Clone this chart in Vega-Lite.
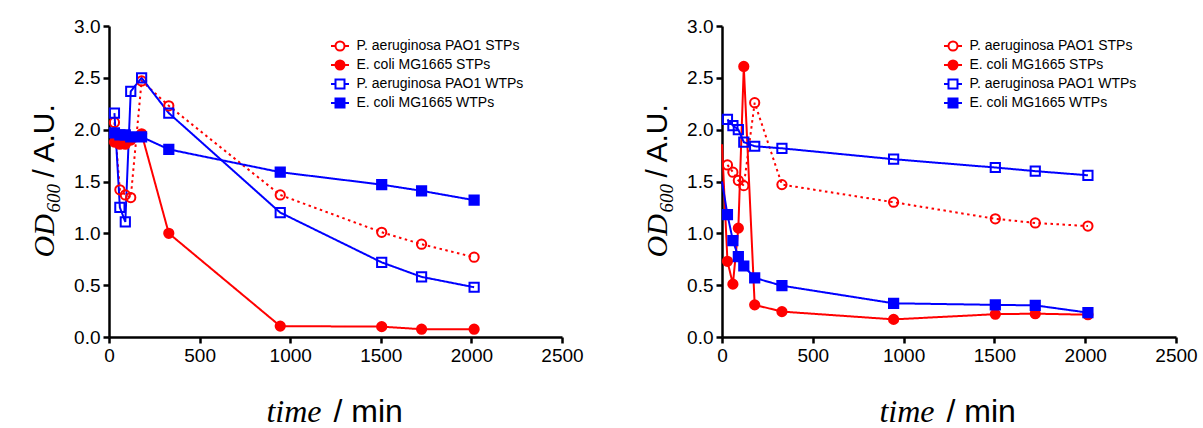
{
  "$schema": "https://vega.github.io/schema/vega-lite/v6.json",
  "padding": {"left": 29, "top": 17, "right": 5, "bottom": 6},
  "background": "white",
  "config": {
    "view": {"stroke": null},
    "axis": {
      "domainColor": "black", "domainWidth": 2.5, "tickColor": "black", "tickWidth": 2.5, "tickSize": 6,
      "labelFont": "Liberation Sans", "labelFontSize": 19, "labelColor": "black", "labelPadding": 3,
      "titleColor": "black", "titleFontWeight": "normal", "grid": false, "labelFlush": false, "labelOverlap": false
    },
    "legend": {"labelLimit": 400}
  },
  "data": {"values": [
    {"p": "L", "s": "P. aeruginosa PAO1 STPs", "t": 30, "y": 2.07},
    {"p": "L", "s": "P. aeruginosa PAO1 STPs", "t": 60, "y": 1.42},
    {"p": "L", "s": "P. aeruginosa PAO1 STPs", "t": 90, "y": 1.37},
    {"p": "L", "s": "P. aeruginosa PAO1 STPs", "t": 120, "y": 1.345},
    {"p": "L", "s": "P. aeruginosa PAO1 STPs", "t": 180, "y": 2.47},
    {"p": "L", "s": "P. aeruginosa PAO1 STPs", "t": 330, "y": 2.23},
    {"p": "L", "s": "P. aeruginosa PAO1 STPs", "t": 945, "y": 1.37},
    {"p": "L", "s": "P. aeruginosa PAO1 STPs", "t": 1505, "y": 1.01},
    {"p": "L", "s": "P. aeruginosa PAO1 STPs", "t": 1725, "y": 0.895},
    {"p": "L", "s": "P. aeruginosa PAO1 STPs", "t": 2015, "y": 0.77},
    {"p": "L", "s": "E. coli MG1665 STPs", "t": 30, "y": 1.88},
    {"p": "L", "s": "E. coli MG1665 STPs", "t": 60, "y": 1.86},
    {"p": "L", "s": "E. coli MG1665 STPs", "t": 90, "y": 1.86},
    {"p": "L", "s": "E. coli MG1665 STPs", "t": 120, "y": 1.9},
    {"p": "L", "s": "E. coli MG1665 STPs", "t": 180, "y": 1.96},
    {"p": "L", "s": "E. coli MG1665 STPs", "t": 330, "y": 1.0},
    {"p": "L", "s": "E. coli MG1665 STPs", "t": 945, "y": 0.105},
    {"p": "L", "s": "E. coli MG1665 STPs", "t": 1505, "y": 0.1},
    {"p": "L", "s": "E. coli MG1665 STPs", "t": 1725, "y": 0.075},
    {"p": "L", "s": "E. coli MG1665 STPs", "t": 2015, "y": 0.075},
    {"p": "L", "s": "P. aeruginosa PAO1 WTPs", "t": 30, "y": 2.16},
    {"p": "L", "s": "P. aeruginosa PAO1 WTPs", "t": 60, "y": 1.25},
    {"p": "L", "s": "P. aeruginosa PAO1 WTPs", "t": 90, "y": 1.11},
    {"p": "L", "s": "P. aeruginosa PAO1 WTPs", "t": 120, "y": 2.37},
    {"p": "L", "s": "P. aeruginosa PAO1 WTPs", "t": 180, "y": 2.5},
    {"p": "L", "s": "P. aeruginosa PAO1 WTPs", "t": 330, "y": 2.16},
    {"p": "L", "s": "P. aeruginosa PAO1 WTPs", "t": 945, "y": 1.2},
    {"p": "L", "s": "P. aeruginosa PAO1 WTPs", "t": 1505, "y": 0.72},
    {"p": "L", "s": "P. aeruginosa PAO1 WTPs", "t": 1725, "y": 0.58},
    {"p": "L", "s": "P. aeruginosa PAO1 WTPs", "t": 2015, "y": 0.48},
    {"p": "L", "s": "E. coli MG1665 WTPs", "t": 30, "y": 1.97},
    {"p": "L", "s": "E. coli MG1665 WTPs", "t": 60, "y": 1.95},
    {"p": "L", "s": "E. coli MG1665 WTPs", "t": 90, "y": 1.95},
    {"p": "L", "s": "E. coli MG1665 WTPs", "t": 120, "y": 1.93},
    {"p": "L", "s": "E. coli MG1665 WTPs", "t": 180, "y": 1.93},
    {"p": "L", "s": "E. coli MG1665 WTPs", "t": 330, "y": 1.81},
    {"p": "L", "s": "E. coli MG1665 WTPs", "t": 945, "y": 1.59},
    {"p": "L", "s": "E. coli MG1665 WTPs", "t": 1505, "y": 1.47},
    {"p": "L", "s": "E. coli MG1665 WTPs", "t": 1725, "y": 1.41},
    {"p": "L", "s": "E. coli MG1665 WTPs", "t": 2015, "y": 1.32},
    {"p": "R", "s": "P. aeruginosa PAO1 STPs", "t": 30, "y": 1.66},
    {"p": "R", "s": "P. aeruginosa PAO1 STPs", "t": 60, "y": 1.59},
    {"p": "R", "s": "P. aeruginosa PAO1 STPs", "t": 90, "y": 1.51},
    {"p": "R", "s": "P. aeruginosa PAO1 STPs", "t": 120, "y": 1.46},
    {"p": "R", "s": "P. aeruginosa PAO1 STPs", "t": 180, "y": 2.26},
    {"p": "R", "s": "P. aeruginosa PAO1 STPs", "t": 330, "y": 1.47},
    {"p": "R", "s": "P. aeruginosa PAO1 STPs", "t": 945, "y": 1.3},
    {"p": "R", "s": "P. aeruginosa PAO1 STPs", "t": 1505, "y": 1.14},
    {"p": "R", "s": "P. aeruginosa PAO1 STPs", "t": 1725, "y": 1.1},
    {"p": "R", "s": "P. aeruginosa PAO1 STPs", "t": 2015, "y": 1.07},
    {"p": "R", "s": "E. coli MG1665 STPs", "t": 0, "y": 1.86},
    {"p": "R", "s": "E. coli MG1665 STPs", "t": 30, "y": 0.73},
    {"p": "R", "s": "E. coli MG1665 STPs", "t": 60, "y": 0.51},
    {"p": "R", "s": "E. coli MG1665 STPs", "t": 90, "y": 1.05},
    {"p": "R", "s": "E. coli MG1665 STPs", "t": 120, "y": 2.61},
    {"p": "R", "s": "E. coli MG1665 STPs", "t": 180, "y": 0.31},
    {"p": "R", "s": "E. coli MG1665 STPs", "t": 330, "y": 0.245},
    {"p": "R", "s": "E. coli MG1665 STPs", "t": 945, "y": 0.17},
    {"p": "R", "s": "E. coli MG1665 STPs", "t": 1505, "y": 0.22},
    {"p": "R", "s": "E. coli MG1665 STPs", "t": 1725, "y": 0.225},
    {"p": "R", "s": "E. coli MG1665 STPs", "t": 2015, "y": 0.215},
    {"p": "R", "s": "P. aeruginosa PAO1 WTPs", "t": 30, "y": 2.1},
    {"p": "R", "s": "P. aeruginosa PAO1 WTPs", "t": 60, "y": 2.04},
    {"p": "R", "s": "P. aeruginosa PAO1 WTPs", "t": 90, "y": 2.0},
    {"p": "R", "s": "P. aeruginosa PAO1 WTPs", "t": 120, "y": 1.88},
    {"p": "R", "s": "P. aeruginosa PAO1 WTPs", "t": 180, "y": 1.84},
    {"p": "R", "s": "P. aeruginosa PAO1 WTPs", "t": 330, "y": 1.82},
    {"p": "R", "s": "P. aeruginosa PAO1 WTPs", "t": 945, "y": 1.715},
    {"p": "R", "s": "P. aeruginosa PAO1 WTPs", "t": 1505, "y": 1.635},
    {"p": "R", "s": "P. aeruginosa PAO1 WTPs", "t": 1725, "y": 1.6},
    {"p": "R", "s": "P. aeruginosa PAO1 WTPs", "t": 2015, "y": 1.56},
    {"p": "R", "s": "E. coli MG1665 WTPs", "t": 0, "y": 1.5},
    {"p": "R", "s": "E. coli MG1665 WTPs", "t": 30, "y": 1.18},
    {"p": "R", "s": "E. coli MG1665 WTPs", "t": 60, "y": 0.93},
    {"p": "R", "s": "E. coli MG1665 WTPs", "t": 90, "y": 0.775},
    {"p": "R", "s": "E. coli MG1665 WTPs", "t": 120, "y": 0.685},
    {"p": "R", "s": "E. coli MG1665 WTPs", "t": 180, "y": 0.57},
    {"p": "R", "s": "E. coli MG1665 WTPs", "t": 330, "y": 0.495},
    {"p": "R", "s": "E. coli MG1665 WTPs", "t": 945, "y": 0.325},
    {"p": "R", "s": "E. coli MG1665 WTPs", "t": 1505, "y": 0.31},
    {"p": "R", "s": "E. coli MG1665 WTPs", "t": 1725, "y": 0.305},
    {"p": "R", "s": "E. coli MG1665 WTPs", "t": 2015, "y": 0.235}
  ]},
  "hconcat": [
    {
      "width": 453, "height": 311,
      "transform": [{"filter": "datum.p == 'L'"}],
      "resolve": {"scale": {"stroke": "independent", "fill": "independent", "shape": "independent", "strokeDash": "independent"}, "axis": {"x": "independent", "y": "independent"}},
      "layer": [
        {
          "mark": {"type": "line", "strokeWidth": 2, "strokeCap": "butt"},
          "encoding": {
            "x": {"field": "t", "type": "quantitative", "scale": {"domain": [0, 2500], "nice": false}, "axis": {"orient": "bottom", "values": [0, 500, 1000, 1500, 2000, 2500], "format": "d", "title": "time", "titleFont": "Liberation Serif", "titleFontStyle": "italic", "titleFontSize": 32, "titleAlign": "right", "titleBaseline": "alphabetic", "titleX": 212, "titleY": 84}},
            "y": {"field": "y", "type": "quantitative", "scale": {"domain": [0, 3], "nice": false}, "axis": {"orient": "left", "values": [0, 0.5, 1, 1.5, 2, 2.5, 3], "format": ".1f", "title": "OD", "titleFont": "Liberation Serif", "titleFontStyle": "italic", "titleFontSize": 30, "titleAngle": 270, "titleAlign": "left", "titleBaseline": "alphabetic", "titleX": -56, "titleY": 231}},
            "stroke": {"field": "s", "type": "nominal", "scale": {"domain": ["P. aeruginosa PAO1 STPs", "E. coli MG1665 STPs", "P. aeruginosa PAO1 WTPs", "E. coli MG1665 WTPs"], "range": ["#ff0000", "#ff0000", "#0000ff", "#0000ff"]}, "legend": null},
            "strokeDash": {"field": "s", "type": "nominal", "scale": {"domain": ["P. aeruginosa PAO1 STPs", "E. coli MG1665 STPs", "P. aeruginosa PAO1 WTPs", "E. coli MG1665 WTPs"], "range": [[2.5, 3.5], [1, 0], [1, 0], [1, 0]]}, "legend": null}
          }
        },
        {
          "mark": {"type": "point", "size": 85, "strokeWidth": 2, "opacity": 1},
          "transform": [{"filter": "datum.t > 0"}],
          "encoding": {
            "x": {"field": "t", "type": "quantitative", "scale": {"domain": [0, 2500], "nice": false}, "axis": {"orient": "bottom", "title": "/ min", "domain": false, "ticks": false, "labels": false, "titleFont": "Liberation Sans", "titleFontSize": 32, "titleAlign": "left", "titleBaseline": "alphabetic", "titleX": 224, "titleY": 84}},
            "y": {"field": "y", "type": "quantitative", "scale": {"domain": [0, 3], "nice": false}, "axis": {"orient": "left", "title": "600", "domain": false, "ticks": false, "labels": false, "titleFont": "Liberation Serif", "titleFontStyle": "italic", "titleFontSize": 19, "titleAngle": 270, "titleAlign": "left", "titleBaseline": "alphabetic", "titleX": -50, "titleY": 186}},
            "stroke": {"field": "s", "type": "nominal", "scale": {"domain": ["P. aeruginosa PAO1 STPs", "E. coli MG1665 STPs", "P. aeruginosa PAO1 WTPs", "E. coli MG1665 WTPs"], "range": ["#ff0000", "#ff0000", "#0000ff", "#0000ff"]}, "legend": null},
            "fill": {"field": "s", "type": "nominal", "scale": {"domain": ["P. aeruginosa PAO1 STPs", "E. coli MG1665 STPs", "P. aeruginosa PAO1 WTPs", "E. coli MG1665 WTPs"], "range": ["transparent", "#ff0000", "transparent", "#0000ff"]}, "legend": null},
            "shape": {"field": "s", "type": "nominal", "scale": {"domain": ["P. aeruginosa PAO1 STPs", "E. coli MG1665 STPs", "P. aeruginosa PAO1 WTPs", "E. coli MG1665 WTPs"], "range": ["circle", "circle", "square", "square"]}, "legend": null}
          }
        },
        {
          "mark": {"type": "point", "size": 81, "strokeWidth": 2, "opacity": 1},
          "transform": [{"filter": "false"}],
          "encoding": {
            "x": {"field": "t", "type": "quantitative", "scale": {"domain": [0, 2500], "nice": false}, "axis": null},
            "y": {"field": "y", "type": "quantitative", "scale": {"domain": [0, 3], "nice": false}, "axis": {"orient": "left", "title": "/ A.U.", "domain": false, "ticks": false, "labels": false, "titleFont": "Liberation Sans", "titleFontSize": 30, "titleAngle": 270, "titleAlign": "left", "titleBaseline": "alphabetic", "titleX": -56, "titleY": 151}},
            "stroke": {"field": "s", "type": "nominal", "scale": {"domain": ["P. aeruginosa PAO1 STPs", "E. coli MG1665 STPs", "P. aeruginosa PAO1 WTPs", "E. coli MG1665 WTPs"], "range": ["#ff0000", "#ff0000", "#0000ff", "#0000ff"]}, "legend": {"orient": "none", "legendX": 224, "legendY": 13, "title": null, "symbolSize": 81, "symbolStrokeWidth": 2, "symbolFillColor": "transparent", "symbolOpacity": 1, "labelFont": "Liberation Sans", "labelFontSize": 14, "labelColor": "black", "labelOffset": 9.5, "labelLimit": 400, "rowPadding": 1, "padding": 0}},
            "fill": {"field": "s", "type": "nominal", "scale": {"domain": ["P. aeruginosa PAO1 STPs", "E. coli MG1665 STPs", "P. aeruginosa PAO1 WTPs", "E. coli MG1665 WTPs"], "range": ["transparent", "#ff0000", "transparent", "#0000ff"]}, "legend": {"orient": "none", "legendX": 224, "legendY": 13, "title": null, "symbolSize": 81, "symbolStrokeWidth": 2, "symbolFillColor": "transparent", "symbolOpacity": 1, "labelFont": "Liberation Sans", "labelFontSize": 14, "labelColor": "black", "labelOffset": 9.5, "labelLimit": 400, "rowPadding": 1, "padding": 0}},
            "shape": {"field": "s", "type": "nominal", "scale": {"domain": ["P. aeruginosa PAO1 STPs", "E. coli MG1665 STPs", "P. aeruginosa PAO1 WTPs", "E. coli MG1665 WTPs"], "range": ["M-2,0H-1M1,0H2M1,0A1,1,0,1,1,-1,0A1,1,0,1,1,1,0Z", "M-2,0H-1M1,0H2M1,0A1,1,0,1,1,-1,0A1,1,0,1,1,1,0Z", "M-2,0H-1M1,0H2M-1,-1H1V1H-1Z", "M-2,0H-1M1,0H2M-1,-1H1V1H-1Z"]}, "legend": {"orient": "none", "legendX": 224, "legendY": 13, "title": null, "symbolSize": 81, "symbolStrokeWidth": 2, "symbolFillColor": "transparent", "symbolOpacity": 1, "labelFont": "Liberation Sans", "labelFontSize": 14, "labelColor": "black", "labelOffset": 9.5, "labelLimit": 400, "rowPadding": 1, "padding": 0}}
          }
        }
      ]
    },
    {
      "width": 454, "height": 311,
      "transform": [{"filter": "datum.p == 'R'"}],
      "resolve": {"scale": {"stroke": "independent", "fill": "independent", "shape": "independent", "strokeDash": "independent"}, "axis": {"x": "independent", "y": "independent"}},
      "layer": [
        {
          "mark": {"type": "line", "strokeWidth": 2, "strokeCap": "butt"},
          "encoding": {
            "x": {"field": "t", "type": "quantitative", "scale": {"domain": [0, 2500], "nice": false}, "axis": {"orient": "bottom", "values": [0, 500, 1000, 1500, 2000, 2500], "format": "d", "title": "time", "titleFont": "Liberation Serif", "titleFontStyle": "italic", "titleFontSize": 32, "titleAlign": "right", "titleBaseline": "alphabetic", "titleX": 212, "titleY": 84}},
            "y": {"field": "y", "type": "quantitative", "scale": {"domain": [0, 3], "nice": false}, "axis": {"orient": "left", "values": [0, 0.5, 1, 1.5, 2, 2.5, 3], "format": ".1f", "title": "OD", "titleFont": "Liberation Serif", "titleFontStyle": "italic", "titleFontSize": 30, "titleAngle": 270, "titleAlign": "left", "titleBaseline": "alphabetic", "titleX": -56, "titleY": 231}},
            "stroke": {"field": "s", "type": "nominal", "scale": {"domain": ["P. aeruginosa PAO1 STPs", "E. coli MG1665 STPs", "P. aeruginosa PAO1 WTPs", "E. coli MG1665 WTPs"], "range": ["#ff0000", "#ff0000", "#0000ff", "#0000ff"]}, "legend": null},
            "strokeDash": {"field": "s", "type": "nominal", "scale": {"domain": ["P. aeruginosa PAO1 STPs", "E. coli MG1665 STPs", "P. aeruginosa PAO1 WTPs", "E. coli MG1665 WTPs"], "range": [[2.5, 3.5], [1, 0], [1, 0], [1, 0]]}, "legend": null}
          }
        },
        {
          "mark": {"type": "point", "size": 85, "strokeWidth": 2, "opacity": 1},
          "transform": [{"filter": "datum.t > 0"}],
          "encoding": {
            "x": {"field": "t", "type": "quantitative", "scale": {"domain": [0, 2500], "nice": false}, "axis": {"orient": "bottom", "title": "/ min", "domain": false, "ticks": false, "labels": false, "titleFont": "Liberation Sans", "titleFontSize": 32, "titleAlign": "left", "titleBaseline": "alphabetic", "titleX": 224, "titleY": 84}},
            "y": {"field": "y", "type": "quantitative", "scale": {"domain": [0, 3], "nice": false}, "axis": {"orient": "left", "title": "600", "domain": false, "ticks": false, "labels": false, "titleFont": "Liberation Serif", "titleFontStyle": "italic", "titleFontSize": 19, "titleAngle": 270, "titleAlign": "left", "titleBaseline": "alphabetic", "titleX": -50, "titleY": 186}},
            "stroke": {"field": "s", "type": "nominal", "scale": {"domain": ["P. aeruginosa PAO1 STPs", "E. coli MG1665 STPs", "P. aeruginosa PAO1 WTPs", "E. coli MG1665 WTPs"], "range": ["#ff0000", "#ff0000", "#0000ff", "#0000ff"]}, "legend": null},
            "fill": {"field": "s", "type": "nominal", "scale": {"domain": ["P. aeruginosa PAO1 STPs", "E. coli MG1665 STPs", "P. aeruginosa PAO1 WTPs", "E. coli MG1665 WTPs"], "range": ["transparent", "#ff0000", "transparent", "#0000ff"]}, "legend": null},
            "shape": {"field": "s", "type": "nominal", "scale": {"domain": ["P. aeruginosa PAO1 STPs", "E. coli MG1665 STPs", "P. aeruginosa PAO1 WTPs", "E. coli MG1665 WTPs"], "range": ["circle", "circle", "square", "square"]}, "legend": null}
          }
        },
        {
          "mark": {"type": "point", "size": 81, "strokeWidth": 2, "opacity": 1},
          "transform": [{"filter": "false"}],
          "encoding": {
            "x": {"field": "t", "type": "quantitative", "scale": {"domain": [0, 2500], "nice": false}, "axis": null},
            "y": {"field": "y", "type": "quantitative", "scale": {"domain": [0, 3], "nice": false}, "axis": {"orient": "left", "title": "/ A.U.", "domain": false, "ticks": false, "labels": false, "titleFont": "Liberation Sans", "titleFontSize": 30, "titleAngle": 270, "titleAlign": "left", "titleBaseline": "alphabetic", "titleX": -56, "titleY": 151}},
            "stroke": {"field": "s", "type": "nominal", "scale": {"domain": ["P. aeruginosa PAO1 STPs", "E. coli MG1665 STPs", "P. aeruginosa PAO1 WTPs", "E. coli MG1665 WTPs"], "range": ["#ff0000", "#ff0000", "#0000ff", "#0000ff"]}, "legend": {"orient": "none", "legendX": 224, "legendY": 13, "title": null, "symbolSize": 81, "symbolStrokeWidth": 2, "symbolFillColor": "transparent", "symbolOpacity": 1, "labelFont": "Liberation Sans", "labelFontSize": 14, "labelColor": "black", "labelOffset": 9.5, "labelLimit": 400, "rowPadding": 1, "padding": 0}},
            "fill": {"field": "s", "type": "nominal", "scale": {"domain": ["P. aeruginosa PAO1 STPs", "E. coli MG1665 STPs", "P. aeruginosa PAO1 WTPs", "E. coli MG1665 WTPs"], "range": ["transparent", "#ff0000", "transparent", "#0000ff"]}, "legend": {"orient": "none", "legendX": 224, "legendY": 13, "title": null, "symbolSize": 81, "symbolStrokeWidth": 2, "symbolFillColor": "transparent", "symbolOpacity": 1, "labelFont": "Liberation Sans", "labelFontSize": 14, "labelColor": "black", "labelOffset": 9.5, "labelLimit": 400, "rowPadding": 1, "padding": 0}},
            "shape": {"field": "s", "type": "nominal", "scale": {"domain": ["P. aeruginosa PAO1 STPs", "E. coli MG1665 STPs", "P. aeruginosa PAO1 WTPs", "E. coli MG1665 WTPs"], "range": ["M-2,0H-1M1,0H2M1,0A1,1,0,1,1,-1,0A1,1,0,1,1,1,0Z", "M-2,0H-1M1,0H2M1,0A1,1,0,1,1,-1,0A1,1,0,1,1,1,0Z", "M-2,0H-1M1,0H2M-1,-1H1V1H-1Z", "M-2,0H-1M1,0H2M-1,-1H1V1H-1Z"]}, "legend": {"orient": "none", "legendX": 224, "legendY": 13, "title": null, "symbolSize": 81, "symbolStrokeWidth": 2, "symbolFillColor": "transparent", "symbolOpacity": 1, "labelFont": "Liberation Sans", "labelFontSize": 14, "labelColor": "black", "labelOffset": 9.5, "labelLimit": 400, "rowPadding": 1, "padding": 0}}
          }
        }
      ]
    }
  ],
  "spacing": 160,
  "bounds": "flush"
}
